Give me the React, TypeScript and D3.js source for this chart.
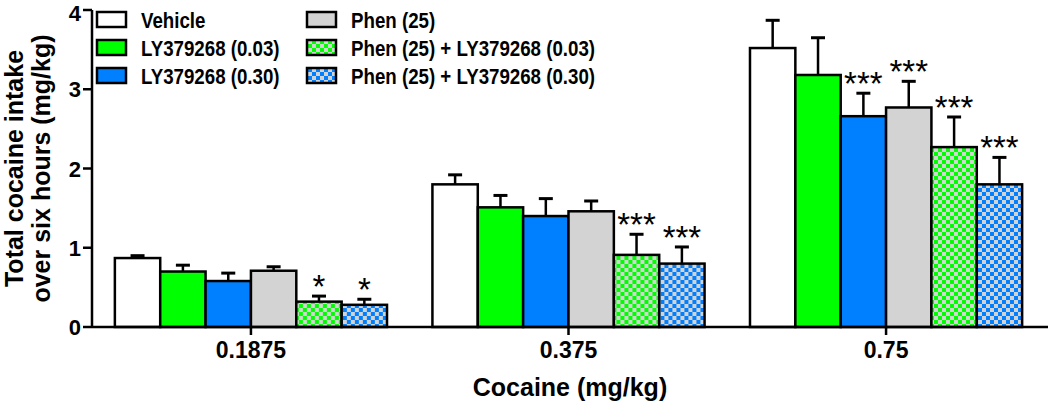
import React from 'react'
import * as d3 from 'd3'

// cocaine doses on the x axis
const doses = ['0.1875', '0.375', '0.75']

const groups = [
  'Vehicle',
  'LY379268 (0.03)',
  'LY379268 (0.30)',
  'Phen (25)',
  'Phen (25) + LY379268 (0.03)',
  'Phen (25) + LY379268 (0.30)',
]

// mean total intake per group, one value per dose
const vehicle = [0.87, 1.8, 3.52]
const ly003 = [0.7, 1.51, 3.18]
const ly030 = [0.58, 1.4, 2.66]
const phen = [0.71, 1.46, 2.77]
const phenLy003 = [0.32, 0.91, 2.27]
const phenLy030 = [0.28, 0.8, 1.8]

// SEM
const vehicleErr = [0.03, 0.12, 0.35]
const ly003Err = [0.08, 0.15, 0.47]
const ly030Err = [0.1, 0.22, 0.29]
const phenErr = [0.05, 0.13, 0.33]
const phenLy003Err = [0.07, 0.26, 0.38]
const phenLy030Err = [0.07, 0.21, 0.34]

// significance marks
const vehicleSig = ['', '', '']
const ly003Sig = ['', '', '']
const ly030Sig = ['', '', '***']
const phenSig = ['', '', '***']
const phenLy003Sig = ['*', '***', '***']
const phenLy030Sig = ['*', '***', '***']

const yTicks = [0, 1, 2, 3, 4]

const means = [vehicle, ly003, ly030, phen, phenLy003, phenLy030]
const errs = [vehicleErr, ly003Err, ly030Err, phenErr, phenLy003Err, phenLy030Err]
const sigs = [vehicleSig, ly003Sig, ly030Sig, phenSig, phenLy003Sig, phenLy030Sig]

const fills = ['#ffffff', '#00ff00', '#0080ff', '#d3d3d3', 'url(#chkGreen)', 'url(#chkBlue)']

const W = 1050
const H = 402
const left = 92
const font = 'Arial, "Liberation Sans", Helvetica, sans-serif'

export default function App() {
  const x0 = d3.scaleBand<string>().domain(doses).range([left, 1045]).paddingInner(0.143).paddingOuter(0.072)
  const x1 = d3.scaleBand<string>().domain(groups).range([0, x0.bandwidth()]).padding(0)
  const y = d3.scaleLinear().domain([0, 4]).range([327, 10])

  const legendCols = [97, 307]

  return (
    <>
      <style>{`body{margin:0}`}</style>
      <svg width={W} height={H} style={{ display: 'block', fontFamily: font }}>
        <defs>
          <pattern id="chkGreen" patternUnits="userSpaceOnUse" width={8} height={8}>
            <rect width={8} height={8} fill="#d3d3d3" />
            <rect width={4} height={4} fill="#00ff00" />
            <rect x={4} y={4} width={4} height={4} fill="#00ff00" />
          </pattern>
          <pattern id="chkBlue" patternUnits="userSpaceOnUse" width={8} height={8}>
            <rect width={8} height={8} fill="#d3d3d3" />
            <rect width={4} height={4} fill="#0080ff" />
            <rect x={4} y={4} width={4} height={4} fill="#0080ff" />
          </pattern>
        </defs>

        {/* bars */}
        {doses.map((d, di) => (
          <g key={d} transform={`translate(${x0(d)},0)`}>
            {groups.map((g, gi) => {
              const v = means[gi][di]
              const e = errs[gi][di]
              const bx = x1(g)!
              const bw = x1.bandwidth()
              const cx = bx + bw / 2
              return (
                <g key={g}>
                  <line x1={cx} x2={cx} y1={y(v)} y2={y(v + e)} stroke="#000" strokeWidth={2.5} />
                  <line x1={cx - 7} x2={cx + 7} y1={y(v + e)} y2={y(v + e)} stroke="#000" strokeWidth={3} />
                  <rect x={bx} y={y(v)} width={bw} height={y(0) - y(v)} fill={fills[gi]} stroke="#000" strokeWidth={2.5} />
                  {sigs[gi][di] && (
                    <text x={cx} y={y(v + e) + 2} textAnchor="middle" fontSize={33} fill="#000">
                      {sigs[gi][di]}
                    </text>
                  )}
                </g>
              )
            })}
          </g>
        ))}

        {/* y axis */}
        <line x1={left} x2={left} y1={y(4)} y2={y(0)} stroke="#000" strokeWidth={2.5} />
        {yTicks.map(t => (
          <g key={t}>
            <line x1={left - 9} x2={left} y1={y(t)} y2={y(t)} stroke="#000" strokeWidth={2.5} />
            {/* top label nudged down so it stays inside the page */}
            <text x={81} y={Math.max(y(t) + 8, 21)} textAnchor="end" fontSize={22} fontWeight="bold">
              {t}
            </text>
          </g>
        ))}

        {/* x axis */}
        <line x1={left} x2={1048} y1={y(0)} y2={y(0)} stroke="#000" strokeWidth={2.5} />
        {doses.map(d => {
          const cx = x0(d)! + x0.bandwidth() / 2
          return (
            <g key={d}>
              <line x1={cx} x2={cx} y1={y(0)} y2={y(0) + 8} stroke="#000" strokeWidth={2.5} />
              <text x={cx} y={358} textAnchor="middle" fontSize={23} fontWeight="bold">
                {d}
              </text>
            </g>
          )
        })}

        <text x={570} y={396} textAnchor="middle" fontSize={25} fontWeight="bold">
          Cocaine (mg/kg)
        </text>
        <text transform={`translate(23,${(y(0) + y(4)) / 2}) rotate(-90)`} textAnchor="middle" fontSize={25} fontWeight="bold">
          Total cocaine intake
        </text>
        <text transform={`translate(50,${(y(0) + y(4)) / 2}) rotate(-90)`} textAnchor="middle" fontSize={25} fontWeight="bold">
          over six hours (mg/kg)
        </text>

        {/* legend */}
        {groups.map((g, gi) => {
          const col = Math.floor(gi / 3)
          const row = gi % 3
          const lx = legendCols[col]
          const ly = 12 + row * 28
          return (
            <g key={g}>
              <rect x={lx} y={ly} width={29} height={15} fill={fills[gi]} stroke="#000" strokeWidth={2.5} />
              <text transform={`translate(${lx + 44},${ly + 16}) scale(0.87,1)`} fontSize={21.5} fontWeight="bold">
                {g}
              </text>
            </g>
          )
        })}
      </svg>
    </>
  )
}
